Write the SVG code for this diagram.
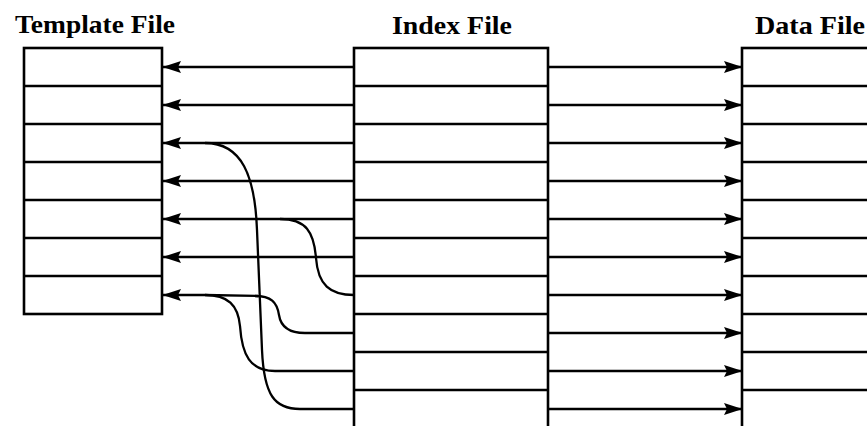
<svg xmlns="http://www.w3.org/2000/svg" width="867" height="426" viewBox="0 0 867 426">
  <style>
    .box { fill: #fff; stroke: #000; stroke-width: 2.6; }
    .sep { stroke: #000; stroke-width: 2.6; fill: none; }
    .title { font-family: "Liberation Serif", "Times New Roman", serif; font-weight: bold; font-size: 25px; fill: #000; }
    .conn { stroke: #000; stroke-width: 2.3; fill: none; }
  </style>
  <defs>
    <marker id="arrow" markerUnits="userSpaceOnUse" markerWidth="20" markerHeight="14" viewBox="-19 -7 20 14" refX="0" refY="0" orient="auto">
      <path d="M0.5,0 L-18,-6 L-15,0 L-18,6 Z" fill="#000"/>
    </marker>
  </defs>
  <rect width="867" height="426" fill="#fff"/>

  <g id="template-file">
    <text class="title" x="15" y="33" textLength="160" lengthAdjust="spacingAndGlyphs">Template File</text>
    <rect class="box" x="24" y="48" width="138" height="266"/>
    <path class="sep" d="M24,86H162M24,124H162M24,162H162M24,200H162M24,238H162M24,276H162"/>
  </g>

  <g id="index-file">
    <text class="title" x="392" y="34" textLength="120" lengthAdjust="spacingAndGlyphs">Index File</text>
    <rect class="box" x="354" y="48" width="194" height="400"/>
    <path class="sep" d="M354,86H548M354,124H548M354,162H548M354,200H548M354,238H548M354,276H548M354,314H548M354,352H548M354,390H548"/>
  </g>

  <g id="data-file">
    <text class="title" x="755" y="34" textLength="110" lengthAdjust="spacingAndGlyphs">Data File</text>
    <rect class="box" x="742" y="48" width="160" height="400"/>
    <path class="sep" d="M742,86H902M742,124H902M742,162H902M742,200H902M742,238H902M742,276H902M742,314H902M742,352H902M742,390H902"/>
  </g>

  <g id="connectors">
    <!-- index -> template -->
    <path class="conn" marker-end="url(#arrow)" d="M354,67H163"/>
    <path class="conn" marker-end="url(#arrow)" d="M354,105H163"/>
    <path class="conn" marker-end="url(#arrow)" d="M354,143H163"/>
    <path class="conn" marker-end="url(#arrow)" d="M354,181H163"/>
    <path class="conn" marker-end="url(#arrow)" d="M354,219H163"/>
    <path class="conn" marker-end="url(#arrow)" d="M354,257H163"/>
    <!-- curved links -->
    <path class="conn" d="M354,409H300C275,409 264,396 262,350L257,230C255,176 242,143 205,143"/>
    <path class="conn" d="M354,295C330,295 318,285 316,258C314,232 306,219 280,219"/>
    <path class="conn" d="M354,333H305C290,333 281,328 279,315C277,302 271,296 255,296"/>
    <path class="conn" d="M354,371H275C250,371 242,355 240,326C238,305 228,295 205,295"/>
    <path class="conn" marker-end="url(#arrow)" d="M258,296L205,295H163"/>
    <!-- index -> data -->
    <path class="conn" marker-end="url(#arrow)" d="M548,67H742"/>
    <path class="conn" marker-end="url(#arrow)" d="M548,105H742"/>
    <path class="conn" marker-end="url(#arrow)" d="M548,143H742"/>
    <path class="conn" marker-end="url(#arrow)" d="M548,181H742"/>
    <path class="conn" marker-end="url(#arrow)" d="M548,219H742"/>
    <path class="conn" marker-end="url(#arrow)" d="M548,257H742"/>
    <path class="conn" marker-end="url(#arrow)" d="M548,295H742"/>
    <path class="conn" marker-end="url(#arrow)" d="M548,333H742"/>
    <path class="conn" marker-end="url(#arrow)" d="M548,371H742"/>
    <path class="conn" marker-end="url(#arrow)" d="M548,409H742"/>
  </g>
</svg>
